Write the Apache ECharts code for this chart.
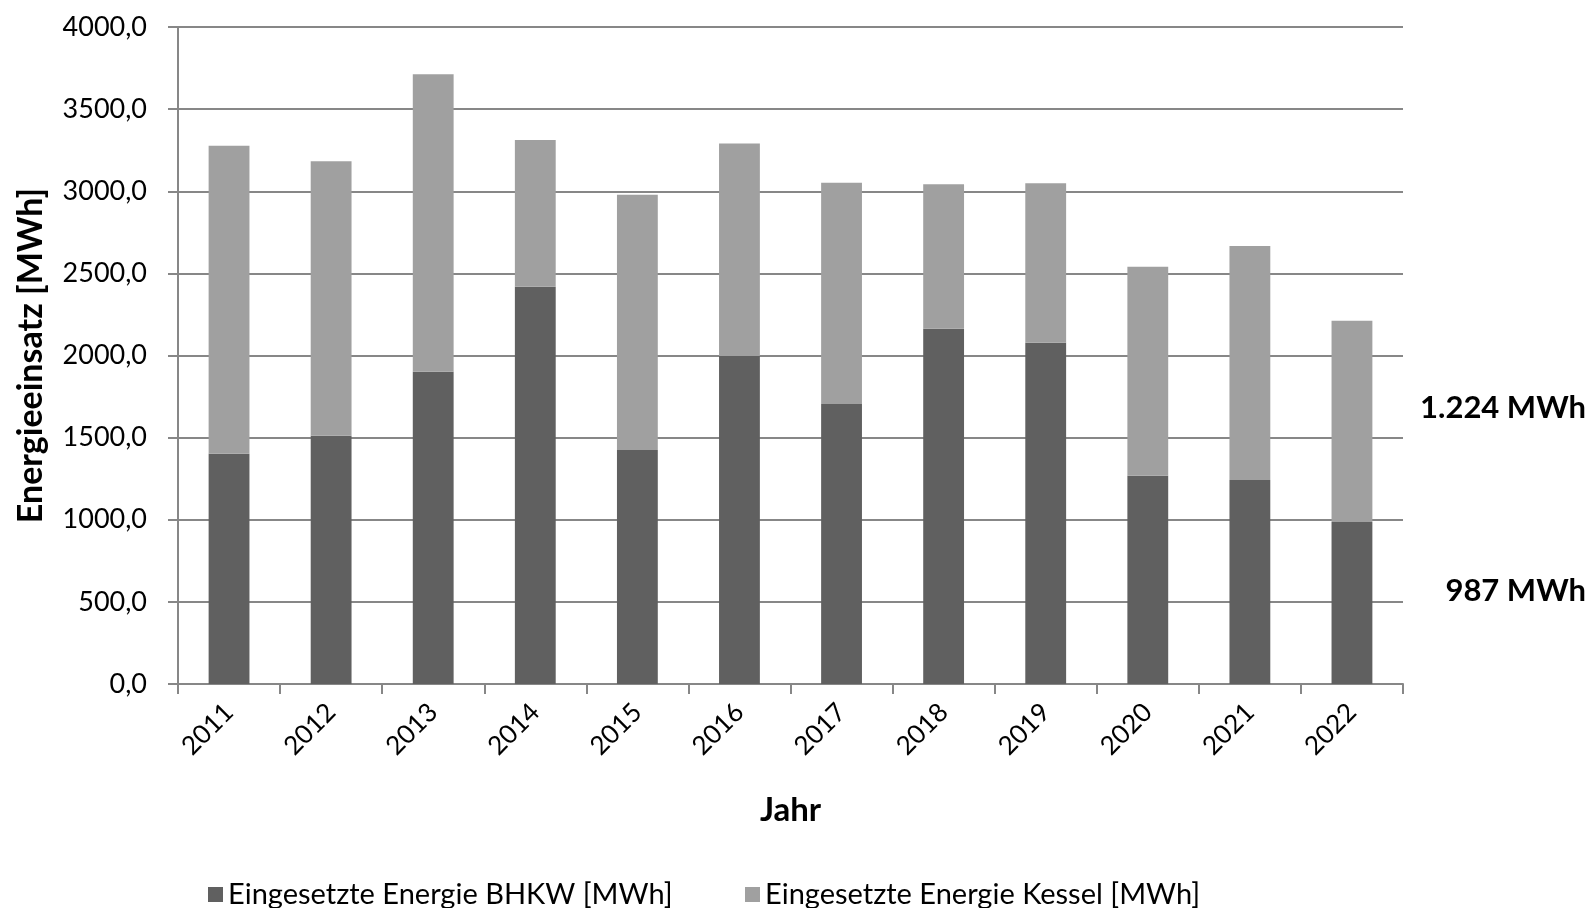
<!DOCTYPE html>
<html>
<head>
<meta charset="utf-8">
<script src="https://cdn.jsdelivr.net/npm/echarts@6/dist/echarts.min.js"></script>
<style>
  html, body { margin: 0; padding: 0; background: #fff; }
  #chart { width: 1593px; height: 908px; }
</style>
</head>
<body>
<div id="chart"></div>
<script>
// Daten
var jahre = ['2011', '2012', '2013', '2014', '2015', '2016', '2017', '2018', '2019', '2020', '2021', '2022'];
var bhkw = [1402, 1512, 1901, 2419, 1425, 1997, 1705, 2163, 2078, 1268, 1242, 987];
var kessel = [1875, 1670, 1811, 893, 1554, 1293, 1347, 879, 970, 1273, 1425, 1224];
var yTicks = [0, 500, 1000, 1500, 2000, 2500, 3000, 3500, 4000];
var nameBhkw = 'Eingesetzte Energie BHKW [MWh]';
var nameKessel = 'Eingesetzte Energie Kessel [MWh]';

var schrift = "Lato, 'Open Sans', sans-serif";
var grau = '#878787';

var myChart = echarts.init(document.getElementById('chart'));

var legendText = { fontFamily: schrift, fontSize: 29, color: '#000' };

var option = {
    backgroundColor: '#ffffff',
    animation: false,
    textStyle: { fontFamily: schrift, color: '#000' },
    grid: { left: 178, right: 190, top: 27, bottom: 224, containLabel: false, outerBoundsMode: 'none' },
    legend: [
        {
            top: 875, left: 203, itemWidth: 15, itemHeight: 15, icon: 'rect', itemGap: 8,
            textStyle: legendText, data: [nameBhkw]
        },
        {
            top: 875, left: 740, itemWidth: 15, itemHeight: 15, icon: 'rect', itemGap: 8,
            textStyle: legendText, data: [nameKessel]
        }
    ],
    xAxis: {
        type: 'category',
        data: jahre,
        name: 'Jahr',
        nameLocation: 'middle',
        nameGap: 110,
        nameTextStyle: { fontFamily: schrift, fontSize: 33, fontWeight: 'bold', color: '#000' },
        axisLine: { lineStyle: { color: grau, width: 2 } },
        axisTick: { show: true, length: 10, lineStyle: { color: grau, width: 2 } },
        axisLabel: { rotate: 45, fontSize: 26, color: '#000', margin: 24, fontFamily: schrift }
    },
    yAxis: {
        type: 'value',
        min: yTicks[0],
        max: yTicks[yTicks.length - 1],
        interval: 500,
        name: 'Energieeinsatz [MWh]',
        nameLocation: 'middle',
        nameGap: 130,
        nameRotate: 90,
        nameTextStyle: { fontFamily: schrift, fontSize: 34, fontWeight: 'bold', color: '#000' },
        axisLine: { show: true, lineStyle: { color: grau, width: 2 } },
        axisTick: { show: true, length: 10, lineStyle: { color: grau, width: 2 } },
        splitLine: { lineStyle: { color: grau, width: 2 } },
        axisLabel: {
            fontSize: 27, color: '#000', margin: 31, fontFamily: schrift,
            formatter: function (v) { return v.toFixed(1).replace('.', ','); }
        }
    },
    series: [
        {
            name: nameBhkw,
            type: 'bar',
            stack: 'energie',
            barWidth: '40%',
            itemStyle: { color: '#606060' },
            data: bhkw
        },
        {
            name: nameKessel,
            type: 'bar',
            stack: 'energie',
            barWidth: '40%',
            itemStyle: { color: '#a0a0a0' },
            data: kessel
        }
    ],
    graphic: [
        {
            type: 'text', x: 1586, y: 408,
            style: { text: '1.224 MWh', font: "bold 31px " + schrift, fill: '#000', align: 'right', verticalAlign: 'middle' }
        },
        {
            type: 'text', x: 1586, y: 591,
            style: { text: '987 MWh', font: "bold 31px " + schrift, fill: '#000', align: 'right', verticalAlign: 'middle' }
        }
    ]
};

myChart.setOption(option);
</script>
</body>
</html>
